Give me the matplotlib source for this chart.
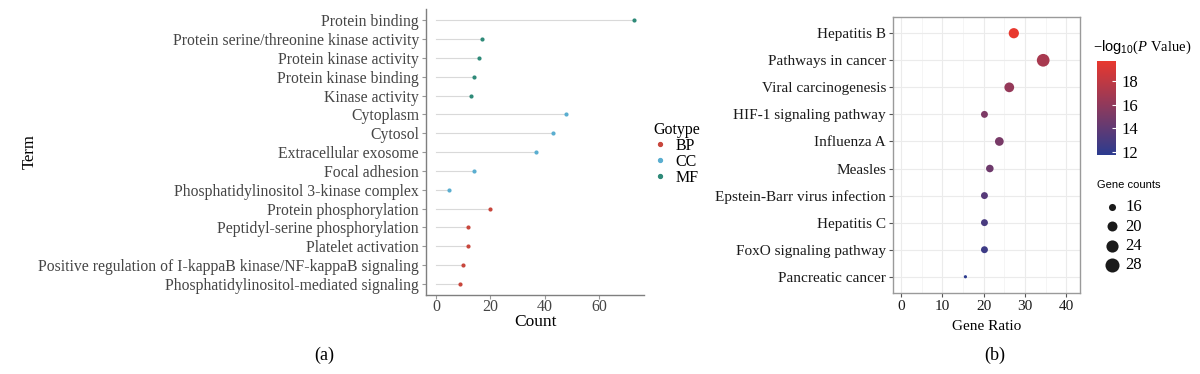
import matplotlib

matplotlib.use("Agg")
import matplotlib.pyplot as plt
import numpy as np
from matplotlib.colors import LinearSegmentedColormap
from matplotlib.lines import Line2D

plt.rcParams["font.family"] = ["Liberation Serif", "DejaVu Serif"]
plt.rcParams["mathtext.fontset"] = "custom"
plt.rcParams["mathtext.rm"] = "Liberation Serif"
plt.rcParams["mathtext.it"] = "Liberation Serif:italic"
plt.rcParams["mathtext.sf"] = "Liberation Sans"

# ---- (a) GO terms ----
go_terms = [
	"Protein binding",
	"Protein serine/threonine kinase activity",
	"Protein kinase activity",
	"Protein kinase binding",
	"Kinase activity",
	"Cytoplasm",
	"Cytosol",
	"Extracellular exosome",
	"Focal adhesion",
	"Phosphatidylinositol 3-kinase complex",
	"Protein phosphorylation",
	"Peptidyl-serine phosphorylation",
	"Platelet activation",
	"Positive regulation of I-kappaB kinase/NF-kappaB signaling",
	"Phosphatidylinositol-mediated signaling",
]
go_counts = [73, 17, 16, 14, 13, 48, 43, 37, 14, 5, 20, 12, 12, 10, 9]
go_types = ["MF"] * 5 + ["CC"] * 5 + ["BP"] * 5
go_colors = {"BP": "#c8463c", "CC": "#5aaed0", "MF": "#2e8a78"}

# ---- (b) KEGG pathways ----
kegg_terms = [
	"Hepatitis B",
	"Pathways in cancer",
	"Viral carcinogenesis",
	"HIF-1 signaling pathway",
	"Influenza A",
	"Measles",
	"Epstein-Barr virus infection",
	"Hepatitis C",
	"FoxO signaling pathway",
	"Pancreatic cancer",
]
kegg_ratio = [27.3, 34.4, 26.2, 20.2, 23.8, 21.5, 20.2, 20.2, 20.2, 15.6]
kegg_counts = [23, 29, 22, 17, 20, 18, 17, 17, 17, 13]
kegg_logp = [19.7, 17.0, 16.2, 15.2, 15.0, 14.6, 13.6, 13.0, 12.5, 11.8]
size_breaks = [16, 20, 24, 28]

tick_gray = "#454545"
fig = plt.figure(figsize=(12, 3.74), dpi=100)

# ================= (a) lollipop =================
ax1 = fig.add_axes([0.355, 0.2104, 0.1817, 0.766])
n = len(go_terms)
ypos = np.arange(n)[::-1]
for y, v, t in zip(ypos, go_counts, go_types):
	ax1.plot([0, v], [y, y], color="#d9d9d9", lw=0.8, zorder=1)
	ax1.scatter(v, y, s=9, color=go_colors[t], zorder=2, linewidths=0)
ax1.set_yticks(ypos)
ax1.set_yticklabels(go_terms, fontsize=11.3, color=tick_gray)
ax1.set_xticks([0, 20, 40, 60])
ax1.tick_params(axis="x", labelsize=11.5, labelcolor=tick_gray, color="#999999", length=3, pad=0)
ax1.tick_params(axis="y", color="#999999", length=3, pad=2)
ax1.set_xlim(-3.65, 76.65)
ax1.set_ylim(-0.6, n - 0.4)
for side in ("top", "right"):
	ax1.spines[side].set_visible(False)
for side in ("left", "bottom"):
	ax1.spines[side].set_color("#7f7f7f")
	ax1.spines[side].set_linewidth(1.0)
ax1.set_xlabel("Count", fontsize=12.5, labelpad=-1)
fig.text(0.025, 0.596, "Term", rotation=90, fontsize=12, ha="center", va="center")

handles = [
	Line2D([], [], marker="o", ls="", color=go_colors[k], markersize=2.8, label=k)
	for k in ("BP", "CC", "MF")
]
leg1 = fig.legend(
	handles=handles,
	title="Gotype",
	loc="upper left",
	bbox_to_anchor=(0.535, 0.705),
	frameon=False,
	fontsize=11.5,
	title_fontsize=11.5,
	handlelength=0.8,
	handletextpad=0.6,
	labelspacing=0.0,
	borderpad=0.2,
)
leg1._legend_box.align = "left"

# ================= (b) bubble =================
ax2 = fig.add_axes([0.7442, 0.2166, 0.1558, 0.738])
cmap = LinearSegmentedColormap.from_list("pv", ["#2b3b8f", "#e8382e"])
vmin, vmax = 11.75, 19.7
cmin, cmax = min(kegg_counts), max(kegg_counts)
dmin, dmax = 3.2, 12.7


def dot_size(c):
	r = (c - cmin) / (cmax - cmin)
	d = np.sqrt(dmin ** 2 + r * (dmax ** 2 - dmin ** 2))
	return (d * 0.72) ** 2


m = len(kegg_terms)
ky = np.arange(m)[::-1]
ax2.scatter(
	kegg_ratio,
	ky,
	s=[dot_size(c) for c in kegg_counts],
	c=kegg_logp,
	cmap=cmap,
	vmin=vmin,
	vmax=vmax,
	linewidths=0,
	zorder=3,
)
ax2.set_yticks(ky)
ax2.set_yticklabels(kegg_terms, fontsize=10.6, color="#1a1a1a")
ax2.set_xticks([0, 10, 20, 30, 40])
ax2.set_xticks([5, 15, 25, 35], minor=True)
ax2.set_xlim(-1.9, 43.3)
ax2.set_ylim(-0.6, m - 0.4)
ax2.grid(True, which="major", color="#ebebeb", lw=0.8, zorder=0)
ax2.grid(True, which="minor", axis="x", color="#f4f4f4", lw=0.6, zorder=0)
ax2.set_axisbelow(True)
ax2.tick_params(axis="both", which="major", labelsize=11, color="#555555", length=3, pad=2)
ax2.tick_params(axis="x", which="minor", length=0)
ax2.tick_params(axis="x", labelcolor="#1a1a1a")
for sp in ax2.spines.values():
	sp.set_color("#9a9a9a")
	sp.set_linewidth(1.0)
ax2.set_xlabel("Gene Ratio", fontsize=11, labelpad=5)

cax = fig.add_axes([0.9144, 0.5856, 0.0156, 0.2513])
sm = plt.cm.ScalarMappable(cmap=cmap, norm=plt.Normalize(vmin, vmax))
cb = fig.colorbar(sm, cax=cax)
cb.set_ticks([12, 14, 16, 18])
cb.outline.set_visible(False)
cb.ax.tick_params(labelsize=12, length=3, color="white", pad=4, direction="in")
fig.text(
	0.911, 0.874,
	r"$-\mathsf{log}_{\mathsf{10}}$($\mathit{P}$ Value)",
	fontsize=10.5, ha="left", va="center",
)

fig.text(0.9138, 0.505, "Gene counts", fontsize=8, family="Liberation Sans", ha="left", va="center")
size_handles = [
	plt.scatter([], [], s=dot_size(c) * 1.3, color="#1a1a1a", linewidths=0, label=str(c))
	for c in size_breaks
]
fig.legend(
	handles=size_handles,
	loc="upper left",
	bbox_to_anchor=(0.911, 0.494),
	frameon=False,
	fontsize=12,
	handlelength=1.0,
	handletextpad=0.35,
	labelspacing=0.2,
	borderpad=0.1,
	scatterpoints=1,
)

fig.text(0.27, 0.05, "(a)", fontsize=13, ha="center", va="center")
fig.text(0.829, 0.05, "(b)", fontsize=13, ha="center", va="center")

fig.savefig("out.png", dpi=100, facecolor="white")
